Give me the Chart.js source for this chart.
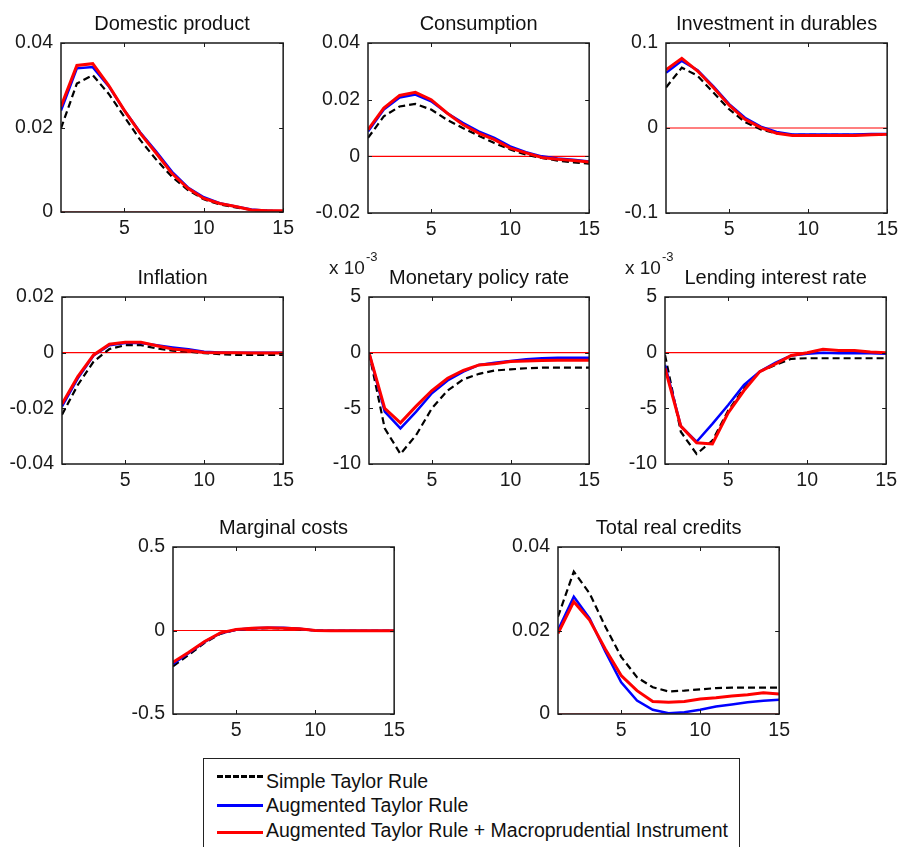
<!DOCTYPE html>
<html>
<head>
<meta charset="utf-8">
<script src="https://cdn.jsdelivr.net/npm/chart.js@4.4.1/dist/chart.umd.min.js"></script>
<style>
  html, body { margin: 0; padding: 0; background: #fff; overflow: hidden; }
  body { width: 904px; height: 847px; position: relative; font-family: "Liberation Sans", Arial, sans-serif; }
  .panel { position: absolute; }
  #legend { position: absolute; left: 203px; top: 758px; width: 535px; height: 110px; border: 1.5px solid #222; background: #fff; }
  .sample { position: absolute; left: 13px; width: 46px; height: 0; }
  .label { position: absolute; left: 62px; height: 20px; line-height: 20px; font-size: 19.5px; color: #111; white-space: nowrap; }
</style>
</head>
<body>
<div id="legend"></div>

<script>
// horizon (quarters)
const periods = [1, 2, 3, 4, 5, 6, 7, 8, 9, 10, 11, 12, 13, 14, 15];
const xTicks = [5, 10, 15];

const seriesNames = ["Simple Taylor Rule", "Augmented Taylor Rule", "Augmented Taylor Rule + Macroprudential Instrument"];

// Domestic product
const domesticSimple = [0.0198, 0.0304, 0.0324, 0.0280, 0.0225, 0.0170, 0.0124, 0.0083, 0.0052, 0.0030, 0.0018, 0.0011, 0.0005, 0.0003, 0.0002];
const domesticAug = [0.0240, 0.0340, 0.0343, 0.0298, 0.0240, 0.0188, 0.0143, 0.0095, 0.0058, 0.0035, 0.0021, 0.0013, 0.0006, 0.0003, 0.0002];
const domesticMacro = [0.0250, 0.0347, 0.0351, 0.0300, 0.0240, 0.0186, 0.0139, 0.0091, 0.0056, 0.0032, 0.0020, 0.0013, 0.0005, 0.0003, 0.0003];
const domesticTicks = [0, 0.02, 0.04];

// Consumption
const consSimple = [0.0065, 0.0141, 0.0176, 0.0185, 0.0165, 0.0129, 0.0100, 0.0073, 0.0047, 0.0024, 0.0006, -0.0006, -0.0015, -0.0021, -0.0026];
const consAug = [0.0088, 0.0165, 0.0208, 0.0218, 0.0194, 0.0153, 0.0118, 0.0088, 0.0065, 0.0035, 0.0015, 0.0000, -0.0008, -0.0012, -0.0018];
const consMacro = [0.0094, 0.0170, 0.0215, 0.0226, 0.0200, 0.0153, 0.0112, 0.0082, 0.0059, 0.0029, 0.0012, -0.0004, -0.0010, -0.0015, -0.0020];
const consTicks = [-0.02, 0, 0.02, 0.04];

// Investment in durables
const invSimple = [0.0476, 0.0710, 0.0614, 0.0417, 0.0220, 0.0070, -0.0016, -0.0063, -0.0080, -0.0080, -0.0080, -0.0080, -0.0080, -0.0080, -0.0080];
const invAug = [0.0650, 0.0790, 0.0680, 0.0490, 0.0280, 0.0120, 0.0016, -0.0047, -0.0075, -0.0075, -0.0075, -0.0075, -0.0075, -0.0071, -0.0071];
const invMacro = [0.0685, 0.0820, 0.0670, 0.0476, 0.0268, 0.0102, 0.0004, -0.0063, -0.0087, -0.0087, -0.0087, -0.0087, -0.0087, -0.0080, -0.0075];
const invTicks = [-0.1, 0, 0.1];

// Inflation
const inflSimple = [-0.0223, -0.0116, -0.0032, 0.0013, 0.0027, 0.0027, 0.0015, 0.0007, 0.0004, -0.0002, -0.0005, -0.0008, -0.0008, -0.0008, -0.0008];
const inflAug = [-0.0193, -0.0092, -0.0010, 0.0027, 0.0035, 0.0035, 0.0027, 0.0019, 0.0012, 0.0003, 0.0001, 0.0000, 0.0000, 0.0000, 0.0000];
const inflMacro = [-0.0184, -0.0086, -0.0008, 0.0030, 0.0037, 0.0037, 0.0025, 0.0013, 0.0008, 0.0001, 0.0000, 0.0000, -0.0001, -0.0001, -0.0001];
const inflTicks = [-0.04, -0.02, 0, 0.02];

// Monetary policy rate (x 10^-3)
const mprSimple = [0, -6.8, -9.1, -7.4, -5.0, -3.4, -2.4, -1.9, -1.6, -1.5, -1.4, -1.35, -1.35, -1.35, -1.35];
const mprAug = [0, -5.3, -6.8, -5.3, -3.65, -2.5, -1.7, -1.1, -0.9, -0.75, -0.6, -0.5, -0.45, -0.45, -0.45];
const mprMacro = [0, -5.0, -6.3, -4.8, -3.4, -2.3, -1.6, -1.1, -1.0, -0.8, -0.75, -0.7, -0.67, -0.67, -0.67];
const mprTicks = [-10, -5, 0, 5];

// Lending interest rate (x 10^-3)
const lendSimple = [-0.2, -7.1, -9.1, -7.9, -5.2, -3.2, -1.7, -1.1, -0.55, -0.5, -0.5, -0.5, -0.5, -0.5, -0.5];
const lendAug = [-1.1, -6.6, -8.0, -6.4, -4.7, -2.9, -1.7, -0.9, -0.25, -0.1, 0.0, -0.05, -0.05, -0.05, -0.1];
const lendMacro = [-1.4, -6.6, -8.1, -8.2, -5.4, -3.4, -1.7, -1.0, -0.25, 0.0, 0.3, 0.2, 0.2, 0.05, 0.0];
const lendTicks = [-10, -5, 0, 5];

// Marginal costs
const mcSimple = [-0.214, -0.146, -0.074, -0.020, 0.004, 0.012, 0.014, 0.012, 0.008, 0.0, -0.002, -0.002, -0.002, -0.002, -0.002];
const mcAug = [-0.200, -0.135, -0.068, -0.016, 0.005, 0.013, 0.016, 0.016, 0.010, 0.0, -0.002, -0.002, -0.002, -0.002, -0.002];
const mcMacro = [-0.190, -0.130, -0.066, -0.014, 0.006, 0.014, 0.016, 0.014, 0.010, 0.0, -0.002, -0.002, -0.002, -0.002, -0.002];
const mcTicks = [-0.5, 0, 0.5];

// Total real credits
const credSimple = [0.0233, 0.0341, 0.0289, 0.0209, 0.0137, 0.0088, 0.0064, 0.0054, 0.0056, 0.0059, 0.0062, 0.0063, 0.0063, 0.0063, 0.0063];
const credAug = [0.0201, 0.0281, 0.0229, 0.0149, 0.0076, 0.0032, 0.0010, 0.0002, 0.0004, 0.0010, 0.0018, 0.0023, 0.0028, 0.0032, 0.0034];
const credMacro = [0.0193, 0.0269, 0.0225, 0.0155, 0.0092, 0.0056, 0.0030, 0.0028, 0.0030, 0.0036, 0.0039, 0.0043, 0.0046, 0.0051, 0.0048];
const credTicks = [0, 0.02, 0.04];

const zeroLine = periods.map(() => 0);

const FONT = "'Liberation Sans', Arial, sans-serif";
const YAXIS_W = 60, TITLE_H = 45, XAXIS_H = 34, PAD_R = 12;

// draws the box around the axes and the small inward tick marks (matlab look)
const axesBox = {
    id: "axesBox",
    afterDatasetsDraw(chart) {
        const { ctx, chartArea: a, scales } = chart;
        const t = 4;
        ctx.save();
        ctx.strokeStyle = "#1a1a1a";
        ctx.lineWidth = 1.5;
        ctx.strokeRect(a.left, a.top, a.width, a.height);
        ctx.lineWidth = 1;
        ctx.beginPath();
        scales.x.ticks.forEach((tk) => {
            const px = Math.round(scales.x.getPixelForValue(tk.value)) + 0.5;
            ctx.moveTo(px, a.bottom); ctx.lineTo(px, a.bottom - t);
            ctx.moveTo(px, a.top); ctx.lineTo(px, a.top + t);
        });
        scales.y.ticks.forEach((tk) => {
            const py = Math.round(scales.y.getPixelForValue(tk.value)) + 0.5;
            ctx.moveTo(a.left, py); ctx.lineTo(a.left + t, py);
            ctx.moveTo(a.right, py); ctx.lineTo(a.right - t, py);
        });
        ctx.stroke();
        ctx.restore();
    },
    afterDraw(chart) {
        const note = chart.options.plugins.axesBox.scaleNote;
        if (!note) return;
        const { ctx, chartArea: a } = chart;
        ctx.save();
        ctx.fillStyle = "#1a1a1a";
        ctx.textBaseline = "middle";
        ctx.font = "19px " + FONT;
        ctx.fillText("x 10", a.left - 40, a.top - 28);
        const w = ctx.measureText("x 10").width;
        ctx.font = "13px " + FONT;
        ctx.fillText(note, a.left - 40 + w + 1, a.top - 40);
        ctx.restore();
    }
};

function makePanel(box, title, yTicks, simple, aug, macro, note) {
    const [L, T, R, B] = box;
    const div = document.createElement("div");
    div.className = "panel";
    div.style.left = (L - YAXIS_W) + "px";
    div.style.top = (T - TITLE_H) + "px";
    const cv = document.createElement("canvas");
    cv.width = (R - L) + YAXIS_W + PAD_R;
    cv.height = (B - T) + TITLE_H + XAXIS_H;
    div.appendChild(cv);
    document.body.appendChild(div);

    const line = (data, color, width, order, dash) => ({
        data: data,
        borderColor: color,
        borderWidth: width,
        borderDash: dash || [],
        pointRadius: 0,
        tension: 0,
        fill: false,
        order: order,
    });

    return new Chart(cv, {
        type: "line",
        data: {
            labels: periods,
            datasets: [
                line(zeroLine, "#ff0000", 1.2, 5),
                line(simple, "#000000", 2.2, 3, [7, 4]),
                line(aug, "#0000ff", 2.5, 2),
                line(macro, "#ff0000", 3, 1),
            ],
        },
        options: {
            responsive: false,
            animation: false,
            layout: { padding: { left: 0, top: 0, right: PAD_R, bottom: 0 } },
            scales: {
                x: {
                    type: "linear",
                    min: 1,
                    max: 15,
                    grid: { display: false, drawTicks: false },
                    border: { display: false },
                    afterBuildTicks: (s) => { s.ticks = xTicks.map((v) => ({ value: v })); },
                    afterFit: (s) => { s.height = XAXIS_H; },
                    ticks: { color: "#1a1a1a", font: { family: FONT, size: 19.5 }, padding: 5, maxRotation: 0, autoSkip: false },
                },
                y: {
                    min: yTicks[0],
                    max: yTicks[yTicks.length - 1],
                    grid: { display: false, drawTicks: false },
                    border: { display: false },
                    afterBuildTicks: (s) => { s.ticks = yTicks.map((v) => ({ value: v })); },
                    afterFit: (s) => { s.width = YAXIS_W; },
                    ticks: { color: "#1a1a1a", font: { family: FONT, size: 19.5 }, padding: 8, autoSkip: false, callback: (v) => String(v) },
                },
            },
            plugins: {
                legend: { display: false },
                tooltip: { enabled: false },
                title: {
                    display: true,
                    text: title,
                    fullSize: false,
                    color: "#111",
                    font: { family: FONT, size: 20, weight: "normal", lineHeight: "20px" },
                    padding: { top: 16, bottom: 9 },
                },
                axesBox: { scaleNote: note },
            },
        },
        plugins: [axesBox],
    });
}

// data points are {x: period, y: value}
function pts(arr) { return arr.map((v, i) => ({ x: periods[i], y: v })); }

function panel(box, title, yTicks, s, a, m, note) {
    return makePanel(box, title, yTicks, pts(s), pts(a), pts(m), note);
}

// zero line needs x values as well
zeroLine.forEach((v, i) => { zeroLine[i] = { x: periods[i], y: v }; });

panel([61, 43, 287, 212], "Domestic product", domesticTicks, domesticSimple, domesticAug, domesticMacro);
panel([368, 43, 593, 213], "Consumption", consTicks, consSimple, consAug, consMacro);
panel([666, 43, 891, 213], "Investment in durables", invTicks, invSimple, invAug, invMacro);
panel([62, 297, 287, 464], "Inflation", inflTicks, inflSimple, inflAug, inflMacro);
panel([369, 297, 593, 464], "Monetary policy rate", mprTicks, mprSimple, mprAug, mprMacro, "-3");
panel([665, 297, 890, 464], "Lending interest rate", lendTicks, lendSimple, lendAug, lendMacro, "-3");
panel([173, 547, 398, 714], "Marginal costs", mcTicks, mcSimple, mcAug, mcMacro);
panel([558, 547, 783, 714], "Total real credits", credTicks, credSimple, credAug, credMacro);

// legend box
const legendStyles = [
    "border-top: 3px dashed #000;",
    "border-top: 3px solid #0000ff;",
    "border-top: 3px solid #ff0000;",
];
const sampleY = [16, 45, 72];
const labelY = [12, 36, 61];
const legend = document.getElementById("legend");
seriesNames.forEach((name, i) => {
    const s = document.createElement("div");
    s.className = "sample";
    s.style.cssText = legendStyles[i] + "top:" + sampleY[i] + "px;";
    legend.appendChild(s);
    const l = document.createElement("div");
    l.className = "label";
    l.style.top = labelY[i] + "px";
    l.textContent = name;
    legend.appendChild(l);
});
</script>
</body>
</html>
